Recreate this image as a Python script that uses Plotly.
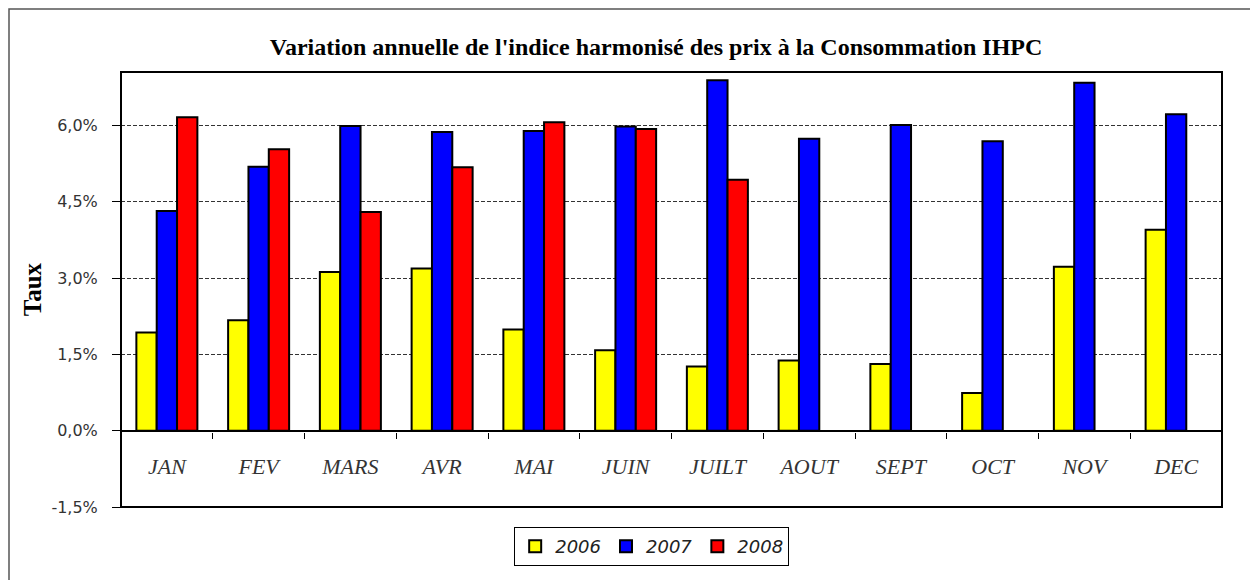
import plotly.graph_objects as go

# données (taux en %)
mois = ["JAN", "FEV", "MARS", "AVR", "MAI", "JUIN", "JUILT", "AOUT", "SEPT", "OCT", "NOV", "DEC"]
taux_2006 = [1.93, 2.17, 3.12, 3.19, 1.99, 1.58, 1.26, 1.38, 1.31, 0.74, 3.22, 3.95]
taux_2007 = [4.32, 5.19, 5.99, 5.87, 5.89, 5.98, 6.89, 5.74, 6.01, 5.69, 6.84, 6.22]
taux_2008 = [6.16, 5.53, 4.30, 5.18, 6.06, 5.93, 4.93, None, None, None, None, None]

y_ticks = [-1.5, 0.0, 1.5, 3.0, 4.5, 6.0]
y_tick_labels = ["-1,5%", "0,0%", "1,5%", "3,0%", "4,5%", "6,0%"]

series = [
    ("2006", taux_2006, "#FFFF00"),
    ("2007", taux_2007, "#0000FF"),
    ("2008", taux_2008, "#FF0000"),
]

# la page ajoute 8px de marge (body), d'où les marges réduites
L, R, T, B = 113, 44, 64, 81
PW, PH = 1258 - L - R, 580 - T - B

fig = go.Figure()
for name, values, color in series:
    fig.add_trace(go.Bar(
        x=mois,
        y=values,
        name=name,
        marker=dict(color=color, line=dict(color="black", width=2)),
    ))

fig.update_layout(
    width=1258,
    height=580,
    barmode="group",
    bargap=0.335,
    bargroupgap=0,
    paper_bgcolor="white",
    plot_bgcolor="white",
    margin=dict(l=L, r=R, t=T, b=B),
    title=dict(
        text="<b>Variation annuelle de l'indice harmonisé des prix à la Consommation IHPC</b>",
        font=dict(family="Liberation Serif", size=24, color="black"),
        x=0.486, xref="paper", xanchor="center",
        y=1 - 39 / 580, yref="container", yanchor="middle",
    ),
    legend=dict(
        orientation="h",
        x=0.482, xanchor="center",
        y=-0.046, yanchor="top",
        bordercolor="black", borderwidth=1,
        font=dict(family="DejaVu Sans", size=18, color="#222", style="italic"),
        itemsizing="constant",
    ),
    showlegend=True,
)

fig.update_xaxes(
    type="category",
    anchor="free",
    position=(507 - 431.5) / 435,
    showline=False,
    showgrid=False,
    ticks="outside",
    tickson="boundaries",
    ticklen=6,
    tickcolor="black",
    ticklabelstandoff=19,
    tickfont=dict(family="Liberation Serif", size=22, color="#333", style="italic"),
)

fig.update_yaxes(
    range=[-1.5, 7.05],
    tickvals=y_ticks,
    ticktext=y_tick_labels,
    ticks="outside",
    ticklen=8,
    tickcolor="black",
    ticklabelstandoff=11,
    tickfont=dict(family="DejaVu Sans", size=16, color="#333"),
    showgrid=True,
    gridcolor="#333",
    griddash="4px,2px",
    gridwidth=1,
    zeroline=True,
    zerolinecolor="black",
    zerolinewidth=2,
    showline=False,
    title=dict(text="<b>Taux</b>", font=dict(family="Liberation Serif", size=25, color="black"), standoff=2),
)

# cadre de la zone de tracé
fig.add_shape(type="rect", xref="paper", yref="paper", x0=0, y0=0, x1=1, y1=1,
              line=dict(color="black", width=2), layer="above")
# cadre extérieur du graphique
fig.add_shape(type="rect", xref="paper", yref="paper",
              x0=(1 - L) / PW, y0=-(B + 20) / PH, x1=(1258 + 20 - L) / PW, y1=(PH + T - 1) / PH,
              line=dict(color="#555", width=1.5), layer="above")

fig.write_html("out.html")
